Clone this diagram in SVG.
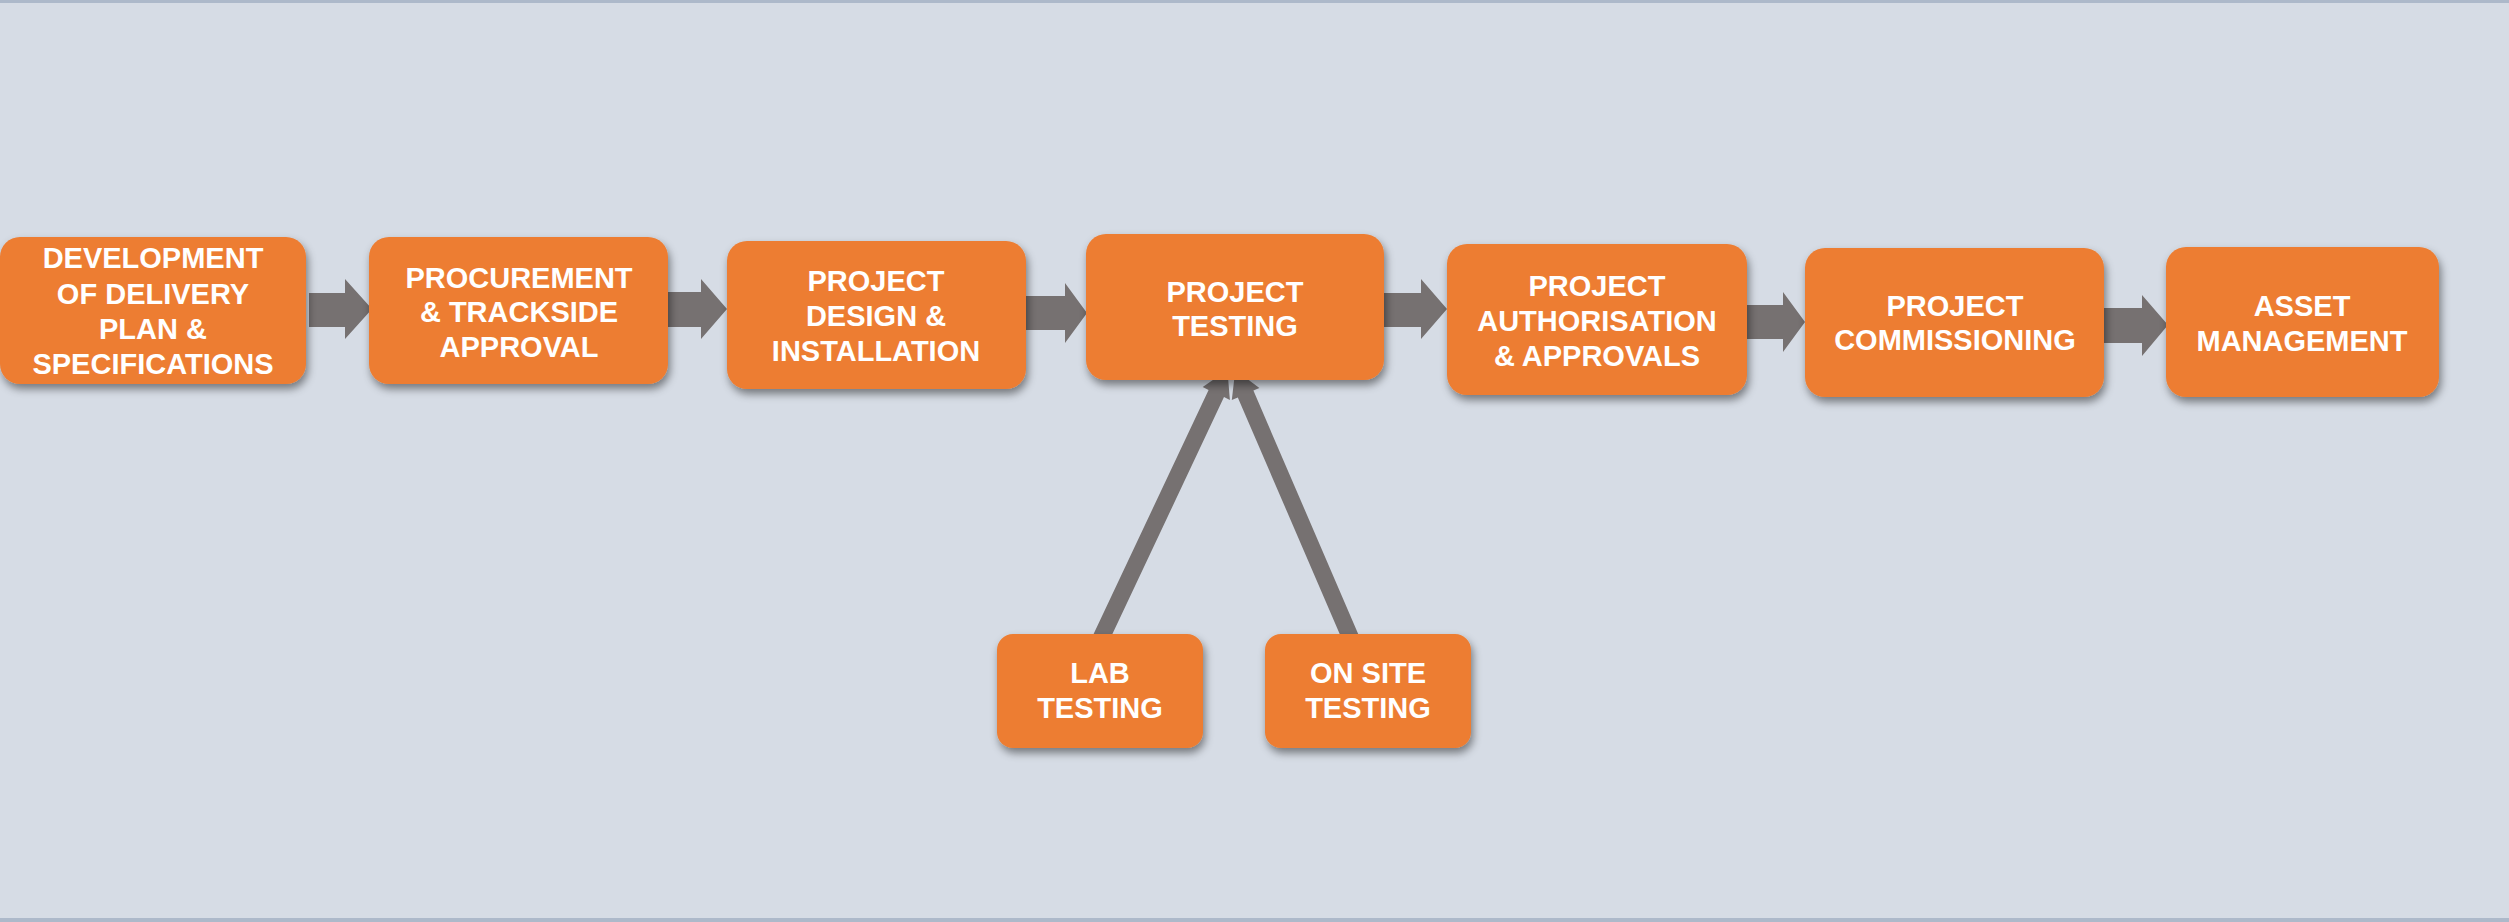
<svg xmlns="http://www.w3.org/2000/svg" width="2509" height="922" viewBox="0 0 2509 922">
  <defs>
    <filter id="shadow" x="-10%" y="-10%" width="125%" height="135%">
      <feDropShadow dx="2" dy="5" stdDeviation="4" flood-color="#000000" flood-opacity="0.45"/>
    </filter>
  </defs>
  <style>
    .box { fill: #ED7D31; filter: url(#shadow); }
    .lbl { font-family: "Liberation Sans", Arial, sans-serif; font-weight: bold; font-size: 29px; fill: #FFFFFF; text-anchor: middle; }
    .arr { fill: #767171; }
  </style>
  <rect x="0" y="0" width="2509" height="922" fill="#D6DCE5"/>
  <rect x="0" y="0" width="2509" height="3" fill="#ADB9CA"/>
  <rect x="0" y="918" width="2509" height="4" fill="#ADB9CA"/>

  <g id="connectors">
    <polygon class="arr" points="309,293 345,293 345,279 372,309 345,339 345,327 309,327"/>
    <polygon class="arr" points="664,292 701,292 701,279 727,309 701,339 701,327 664,327"/>
    <polygon class="arr" points="1026,296 1065,296 1065,283 1087,313 1065,343 1065,330 1026,330"/>
    <polygon class="arr" points="1382,293 1421,293 1421,279 1447,309 1421,339 1421,327 1382,327"/>
    <polygon class="arr" points="1745,305 1783,305 1783,292 1805,322 1783,352 1783,339 1745,339"/>
    <polygon class="arr" points="2102,308 2142,308 2142,295 2168,325 2142,356 2142,343 2102,343"/>
    <polygon class="arr" points="1107.8,643.8 1224.0,397.1 1229.9,399.9 1227.4,370.0 1202.7,387.1 1208.6,389.9 1092.4,636.6"/>
    <polygon class="arr" points="1359.5,636.9 1253.4,390.6 1259.4,388.1 1235.3,370.1 1231.8,399.9 1237.8,397.4 1343.9,643.7"/>
  </g>

  <g id="n1">
    <rect class="box" x="0" y="237" width="306" height="147" rx="20"/>
    <text class="lbl" x="153" y="268">DEVELOPMENT</text>
    <text class="lbl" x="153" y="304">OF DELIVERY</text>
    <text class="lbl" x="153" y="339">PLAN &amp;</text>
    <text class="lbl" x="153" y="374">SPECIFICATIONS</text>
  </g>
  <g id="n2">
    <rect class="box" x="369" y="237" width="299" height="147" rx="20"/>
    <text class="lbl" x="519" y="288">PROCUREMENT</text>
    <text class="lbl" x="519" y="322">&amp; TRACKSIDE</text>
    <text class="lbl" x="519" y="357">APPROVAL</text>
  </g>
  <g id="n3">
    <rect class="box" x="727" y="241" width="299" height="148" rx="20"/>
    <text class="lbl" x="876" y="291">PROJECT</text>
    <text class="lbl" x="876" y="326">DESIGN &amp;</text>
    <text class="lbl" x="876" y="361">INSTALLATION</text>
  </g>
  <g id="n4">
    <rect class="box" x="1086" y="234" width="298" height="146" rx="20"/>
    <text class="lbl" x="1235" y="302">PROJECT</text>
    <text class="lbl" x="1235" y="336">TESTING</text>
  </g>
  <g id="n5">
    <rect class="box" x="1447" y="244" width="300" height="151" rx="20"/>
    <text class="lbl" x="1597" y="296">PROJECT</text>
    <text class="lbl" x="1597" y="331">AUTHORISATION</text>
    <text class="lbl" x="1597" y="366">&amp; APPROVALS</text>
  </g>
  <g id="n6">
    <rect class="box" x="1805" y="248" width="299" height="149" rx="20"/>
    <text class="lbl" x="1955" y="316">PROJECT</text>
    <text class="lbl" x="1955" y="350">COMMISSIONING</text>
  </g>
  <g id="n7">
    <rect class="box" x="2166" y="247" width="273" height="150" rx="20"/>
    <text class="lbl" x="2302" y="316">ASSET</text>
    <text class="lbl" x="2302" y="351">MANAGEMENT</text>
  </g>
  <g id="n8">
    <rect class="box" x="997" y="634" width="206" height="114" rx="16"/>
    <text class="lbl" x="1100" y="683">LAB</text>
    <text class="lbl" x="1100" y="718">TESTING</text>
  </g>
  <g id="n9">
    <rect class="box" x="1265" y="634" width="206" height="114" rx="16"/>
    <text class="lbl" x="1368" y="683">ON SITE</text>
    <text class="lbl" x="1368" y="718">TESTING</text>
  </g>
</svg>
